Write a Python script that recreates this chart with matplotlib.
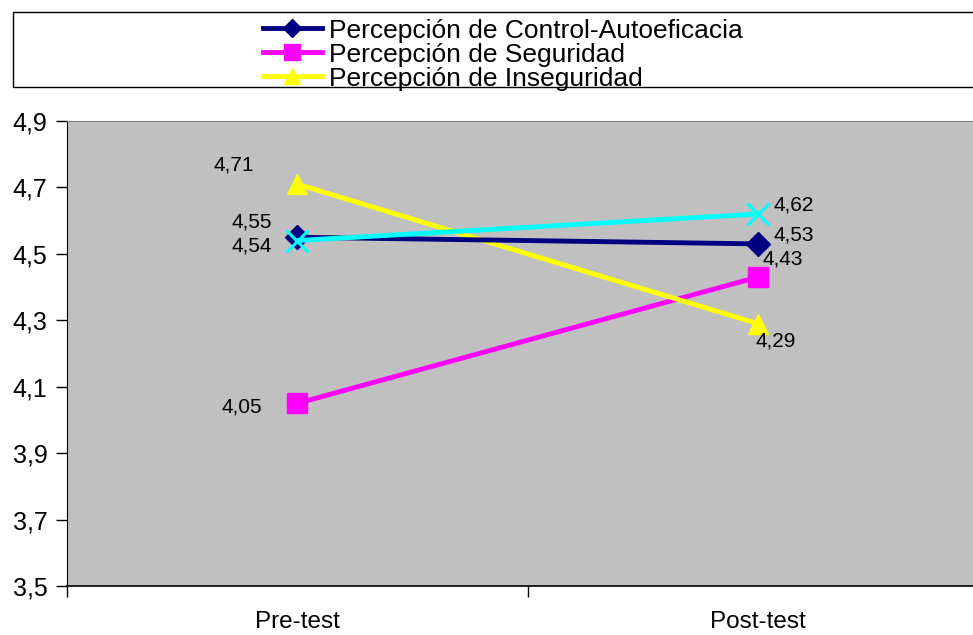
import matplotlib
matplotlib.use("Agg")
import matplotlib.pyplot as plt
from matplotlib.patches import Rectangle

plt.rcParams['font.family'] = ['Liberation Sans', 'DejaVu Sans']

categories = ["Pre-test", "Post-test"]
control = [4.55, 4.53]
seguridad = [4.05, 4.43]
inseguridad = [4.71, 4.29]
cuarta = [4.54, 4.62]
yticks = [3.5, 3.7, 3.9, 4.1, 4.3, 4.5, 4.7, 4.9]
ytick_labels = ["3,5", "3,7", "3,9", "4,1", "4,3", "4,5", "4,7", "4,9"]
legend_labels = ["Percepción de Control-Autoeficacia", "Percepción de Seguridad",
                 "Percepción de Inseguridad"]

W, H = 973, 635
fig = plt.figure(figsize=(W / 100, H / 100), dpi=100)
ax = fig.add_axes([67 / W, 1 - 586 / H, 921 / W, (586 - 121) / H])
ax.set_facecolor('#C0C0C0')

xs = [0.5, 1.5]
l1, = ax.plot(xs, control, color='#000080', lw=3.5, marker='D', ms=12, zorder=4)
l2, = ax.plot(xs, seguridad, color='#FF00FF', lw=3.5, marker='s', ms=15, zorder=3)
l3, = ax.plot(xs, inseguridad, color='#FFFF00', lw=3.5, marker='^', ms=15, zorder=3)
l4, = ax.plot(xs, cuarta, color='#00FFFF', lw=3.5, marker='x', ms=16, mew=2.2, zorder=5)

def fmt(v):
    return f"{v:.2f}".replace('.', ',')

# label offsets in pixels
offs = {
    ('c', 0): (-45, 15), ('c', 1): (36, 9),
    ('s', 0): (-55, -4), ('s', 1): (25, 18),
    ('i', 0): (-64, 19), ('i', 1): (18, -17),
    ('q', 0): (-45, -5), ('q', 1): (36, 9),
}
for key, ser in (('c', control), ('s', seguridad), ('i', inseguridad), ('q', cuarta)):
    for i, v in enumerate(ser):
        dx, dy = offs[(key, i)]
        ax.annotate(fmt(v), (xs[i], v), xytext=(dx, dy), textcoords='offset pixels',
                    ha='center', va='center', fontsize=15, zorder=6)

ax.set_xlim(0, 2)
ax.set_ylim(3.5, 4.9)
ax.set_yticks(yticks)
ax.set_yticklabels(ytick_labels, fontsize=18)
ax.set_xticks([0, 1, 2])
ax.set_xticklabels([])
ax.set_xticks(xs, minor=True)
ax.set_xticklabels(categories, minor=True, fontsize=17.5)
ax.tick_params(axis='x', which='minor', length=0, pad=18)
ax.tick_params(axis='x', which='major', length=8, width=1, direction='out')
ax.tick_params(axis='y', length=8, width=1, direction='out', pad=6)
ax.spines['top'].set_color('#808080')
ax.spines['right'].set_visible(False)
ax.spines['left'].set_color('black')
ax.spines['bottom'].set_color('black')
ax.spines['bottom'].set_linewidth(1.2)

# legend box
fig.patches.append(Rectangle((14 / W, 1 - 88 / H), 1.0, 75 / H, transform=fig.transFigure,
                             facecolor='#606060', edgecolor='none', zorder=0))
fig.patches.append(Rectangle((13 / W, 1 - 87 / H), 1.0, 75 / H, transform=fig.transFigure,
                             facecolor='white', edgecolor='black', lw=1, zorder=1))
leg = fig.legend([l1, l2, l3], legend_labels, loc='upper left',
                 bbox_to_anchor=(260 / W, 1 - 16 / H), frameon=False, fontsize=19,
                 handlelength=2.25, handletextpad=0.26, labelspacing=0.0,
                 borderaxespad=0, borderpad=0.1, markerscale=0.8)

fig.savefig("out.png", dpi=100)
